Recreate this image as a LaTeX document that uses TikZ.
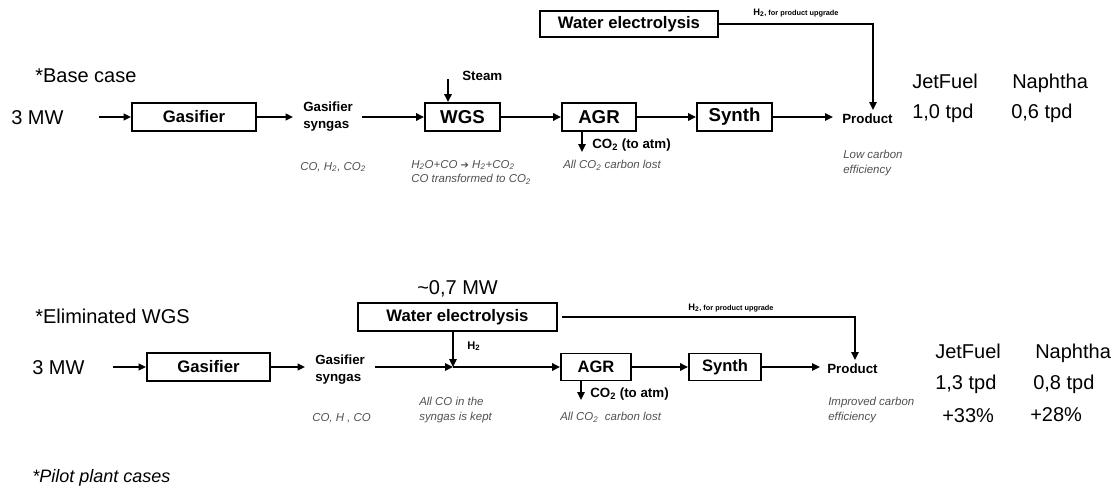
\documentclass[tikz,border=0pt]{standalone}
\usepackage{fontspec}
\setmainfont{Liberation Sans}
\newfontfamily\symfont{DejaVu Sans}
\usetikzlibrary{arrows.meta}
\definecolor{notegray}{HTML}{505050}
\begin{document}
\begin{tikzpicture}[x=0.75pt,y=-0.75pt,
  box/.style={draw, line width=1.4pt, fill=white, inner sep=0pt, font=\bfseries\fontsize{12.5}{15}\selectfont},
  bigbox/.style={box, font=\bfseries\fontsize{14}{16}\selectfont},
  flow/.style={line width=1.6pt, -{Triangle[length=6pt,width=5.5pt]}},
  thinflow/.style={line width=1.2pt, -{Triangle[length=5.5pt,width=5pt]}},
  upline/.style={line width=1.2pt, -{Triangle[length=6pt,width=5.5pt]}},
  big/.style={inner sep=0pt, anchor=base west, font=\fontsize{15}{18}\selectfont},
  lab/.style={inner sep=0pt, anchor=base west, font=\bfseries\fontsize{10}{12.5}\selectfont},
  twolab/.style={inner sep=0pt, anchor=north west, align=left, font=\bfseries\fontsize{10}{12.5}\selectfont},
  note/.style={inner sep=0pt, anchor=north west, align=left, text=notegray, font=\itshape\fontsize{8.6}{11}\selectfont},
  tinylab/.style={inner sep=0pt, anchor=base west, font=\bfseries\fontsize{5.5}{6.5}\selectfont},
]
\useasboundingbox (0,0) rectangle (1117,489);

% ---------------- Base case ----------------
\node[big] (bc1) at (35,82) {*Base case};
\node[big] (mw1) at (11,124) {3 MW};
\node[box, minimum width=93pt, minimum height=21pt] (gas1) at (194,117) {Gasifier};
\node[twolab] (syng1) at (303,102) {Gasifier\\syngas};
\node[bigbox, minimum width=56.25pt, minimum height=21pt] (wgs1) at (462.5,117) {WGS};
\node[bigbox, minimum width=55.5pt, minimum height=21pt] (agr1) at (599,117) {AGR};
\node[bigbox, minimum width=56.25pt, minimum height=21pt] (syn1) at (734.5,117) {Synth};
\node[box, minimum width=133.5pt, minimum height=19.5pt] (wel1) at (629,24) {Water electrolysis};
\node[lab] (steam1) at (462,80) {Steam};
\coordinate (steamsrc1) at (448,79);
\node[lab] (co2l1) at (592,148) {CO\textsubscript{2} (to atm)};
\coordinate (co2end1) at (582,152);
\node[note] (nsyng1) at (300,162) {CO, H\textsubscript{2}, CO\textsubscript{2}};
\node[note] (nwgs1) at (411,160) {H\textsubscript{2}O+CO {\symfont\upshape\fontsize{7.5}{9}\selectfont ➔} H\textsubscript{2}+CO\textsubscript{2}\\CO transformed to CO\textsubscript{2}};
\node[note] (nagr1) at (563,160) {All CO\textsubscript{2} carbon lost};
\node[lab] (prod1) at (842,123) {Product};
\node[note] (nprod1) at (843,150) {Low carbon\\efficiency};
\node[tinylab] (h2u1) at (753,15) {{\fontsize{7}{8}\selectfont H\textsubscript{2}}, for product upgrade};
\coordinate (h2end1) at (873,110);
\node[big] (jf1) at (912,88) {JetFuel};
\node[big] (na1) at (1012,88) {Naphtha};
\node[big] (jfv1) at (912,118) {1,0 tpd};
\node[big] (nav1) at (1011,118) {0,6 tpd};

\draw[thinflow, shorten <=26.25pt] (mw1.east |- gas1.west) -- (gas1.west);
\draw[thinflow, shorten >=7.5pt] (gas1.east) -- (gas1.east -| syng1.west);
\draw[flow, shorten <=6.75pt] (wgs1.west -| syng1.east) -- (wgs1.west);
\draw[flow] (steamsrc1) -- (steamsrc1 |- wgs1.north);
\draw[flow] (wgs1.east) -- (agr1.west);
\draw[flow] (agr1.east) -- (syn1.west);
\draw[flow, shorten >=6.75pt] (syn1.east) -- (syn1.east -| prod1.west);
\draw[flow] (co2end1 |- agr1.south) -- (co2end1);
\draw[upline] (wel1.east) -| (h2end1);

% ---------------- Eliminated WGS ----------------
\node[big] (bc2) at (35,323) {*Eliminated WGS};
\node[big] (mw2) at (32,374) {3 MW};
\node[box, minimum width=92.25pt, minimum height=21pt] (gas2) at (208.5,367) {Gasifier};
\node[twolab] (syng2) at (315,355) {Gasifier\\syngas};
\node[box, minimum width=149.25pt, minimum height=21pt] (wel2) at (457.5,317) {Water electrolysis};
\node[big] (mw07) at (417,294) {\textasciitilde 0,7 MW};
\coordinate (junc) at (453,367);
\node[lab, font=\bfseries\fontsize{8.3}{10}\selectfont] (h2l) at (467,349) {H\textsubscript{2}};
\node[box, font=\bfseries\fontsize{12.4}{15}\selectfont, minimum width=52.5pt, minimum height=20.25pt] (agr2) at (596,367) {AGR};
\node[box, font=\bfseries\fontsize{12.4}{15}\selectfont, minimum width=54pt, minimum height=20.25pt] (syn2) at (725,367) {Synth};
\coordinate (co2end2) at (581,400);
\node[lab] (co2l2) at (590,397) {CO\textsubscript{2} (to atm)};
\node[note] (nagr2) at (560,412) {All CO\textsubscript{2}\ \ carbon lost};
\node[note] (njunc) at (419,397) {All CO in the\\syngas is kept};
\node[note] (nsyng2) at (312,413) {CO, H , CO};
\node[lab] (prod2) at (827,373) {Product};
\node[note] (nprod2) at (828,397) {Improved carbon\\efficiency};
\node[tinylab] (h2u2) at (688,310) {{\fontsize{7}{8}\selectfont H\textsubscript{2}}, for product upgrade};
\coordinate (h2end2) at (855,360);
\node[big] (jf2) at (935,358) {JetFuel};
\node[big] (na2) at (1035,358) {Naphtha};
\node[big] (jfv2) at (935,389) {1,3 tpd};
\node[big] (nav2) at (1033,389) {0,8 tpd};
\node[big] (jfp2) at (942,422) {+33\%};
\node[big] (nap2) at (1030,421) {+28\%};
\node[big, font=\itshape\fontsize{13.5}{16}\selectfont] (pilot) at (32,482) {*Pilot plant cases};

\draw[thinflow, shorten <=21pt] (mw2.east |- gas2.west) -- (gas2.west);
\draw[thinflow, shorten >=7.5pt] (gas2.east) -- (gas2.east -| syng2.west);
\draw[flow, shorten <=7.5pt] (junc -| syng2.east) -- (junc);
\draw[flow] (wel2.south -| junc) -- (junc);
\draw[flow] (junc) -- (agr2.west);
\draw[flow] (agr2.east) -- (syn2.west);
\draw[flow, shorten >=5.25pt] (syn2.east) -- (syn2.east -| prod2.west);
\draw[flow] (co2end2 |- agr2.south) -- (co2end2);
\draw[upline, shorten <=3pt] (wel2.east) -| (h2end2);
\end{tikzpicture}
\end{document}
